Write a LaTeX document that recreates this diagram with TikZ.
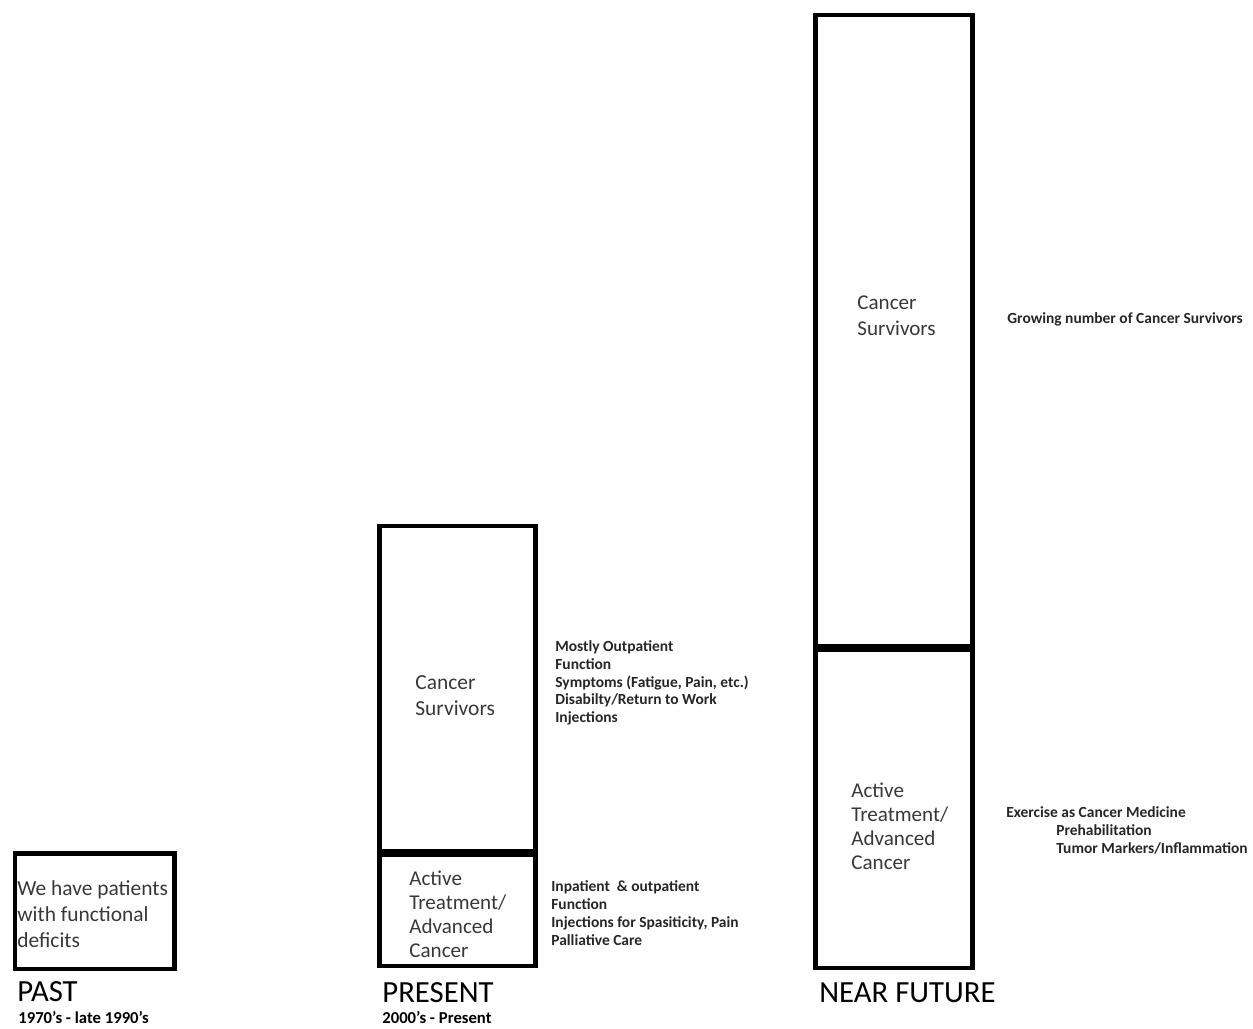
\documentclass[tikz,border=0pt]{standalone}
\usepackage{fontspec}
\setmainfont{Carlito}
\usepackage{tikz}
\usetikzlibrary{positioning}

\tikzset{
  boxline/.style={line width=0.09cm},
  divline/.style={line width=0.16cm},
  bodytext/.style={text=black!78, align=left, inner sep=0pt, anchor=north west,
    font=\fontsize{12.2}{14.8}\selectfont},
  notetext/.style={text=black!85, align=left, inner sep=0pt, anchor=north west,
    font=\bfseries\fontsize{8.8}{10.2}\selectfont},
  eratext/.style={inner sep=0pt, anchor=north west, font=\fontsize{17.5}{20}\selectfont},
  datetext/.style={inner sep=0pt, anchor=north west, font=\bfseries\fontsize{9.5}{11}\selectfont}
}

\begin{document}
\begin{tikzpicture}[x=0.02cm,y=-0.02cm]
  \useasboundingbox (0,0) rectangle (1253,1028);

  % Past
  \draw[boxline] (15,853.5) rectangle (174.5,969);
  \node[bodytext] (pastbody) at (17,880) {We have patients\\with functional\\deficits};
  \node[eratext] (pastlabel) at (17,981) {PAST};
  \node[datetext] (pastdate) at (18,1011) {1970's - late 1990's};

  % Present
  \draw[boxline] (379.5,526) rectangle (535.5,966);
  \draw[divline] (379.5,853) -- (535.5,853);
  \node[bodytext] (presurv) at (415,675) {Cancer\\Survivors};
  \node[bodytext, font=\fontsize{12}{13.6}\selectfont] (preactive) at (409,871)
    {Active\\Treatment/\\Advanced\\Cancer};
  \node[notetext] (presurvnote) at (555,640)
    {Mostly Outpatient\\Function\\Symptoms (Fatigue, Pain, etc.)\\Disabilty/Return to Work\\Injections};
  \node[notetext] (preactnote) at (551,880)
    {Inpatient \ \& outpatient\\Function\\Injections for Spasiticity, Pain\\Palliative Care};
  \node[eratext] (prelabel) at (382,982) {PRESENT};
  \node[datetext] (predate) at (382,1011) {2000's - Present};

  % Near future
  \draw[boxline] (815.5,15) rectangle (972.5,968);
  \draw[divline] (815.5,648) -- (972.5,648);
  \node[bodytext, font=\fontsize{12}{15.3}\selectfont] (futsurv) at (857,295) {Cancer\\Survivors};
  \node[bodytext, font=\fontsize{12}{13.6}\selectfont] (futactive) at (851,783)
    {Active\\Treatment/\\Advanced\\Cancer};
  \node[notetext] (futsurvnote) at (1007,312) {Growing number of Cancer Survivors};
  \node[notetext] (futactnote) at (1006,806)
    {Exercise as Cancer Medicine\\\hspace*{1cm}Prehabilitation\\\hspace*{1cm}Tumor Markers/Inflammation};
  \node[eratext] (futlabel) at (819,982) {NEAR FUTURE};
\end{tikzpicture}
\end{document}
